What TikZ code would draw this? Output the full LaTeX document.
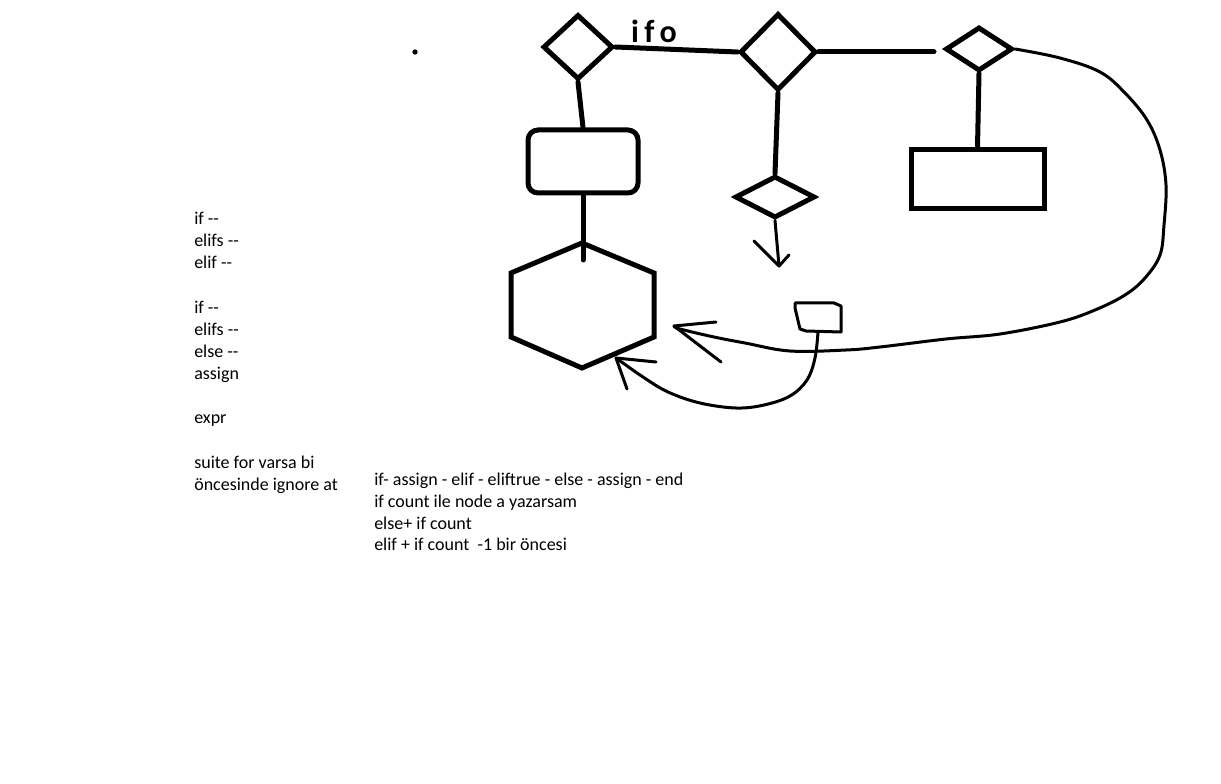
\documentclass[tikz,border=0pt]{standalone}
\usepackage{fontspec}
\setmainfont{Carlito}
\usetikzlibrary{shapes.geometric}

\begin{document}
\begin{tikzpicture}[x=0.75pt, y=-0.75pt, line cap=round,
  kalin/.style={line width=3.75pt},
  ince/.style={line width=2.25pt, line join=round},
  karo/.style={draw, diamond, kalin, inner sep=0pt},
  kutu/.style={draw, rectangle, kalin, inner sep=0pt},
  yazi/.style={align=left, inner sep=0pt, anchor=north west, font=\fontsize{13.5pt}{16.6pt}\selectfont}]
  \useasboundingbox (0,0) rectangle (1221,784);

  % ust sira: if - elif - else
  \node[karo, minimum width=52.5pt, minimum height=48.75pt] (if1) at (578,47) {};
  \node[karo, minimum width=57pt, minimum height=57.75pt] (elif1) at (778,52) {};
  \node[karo, minimum width=50.25pt, minimum height=33pt] (else1) at (979,49) {};
  \node[font=\bfseries\fontsize{24pt}{24pt}\selectfont, inner sep=0pt] (etiket) at (654,31) {i\,f\hspace{4pt}o};
  \coordinate (elsebos) at (934,52);
  \draw[kalin] (if1.east) -- (elif1.west);
  \draw[kalin] (elif1.east) -- (elsebos);

  % alt kutular
  \node[kutu, rounded corners=7.5pt, minimum width=82.5pt, minimum height=47.25pt] (assign1) at (583,161.5) {};
  \node[kutu, minimum width=99.75pt, minimum height=44.25pt] (assign2) at (977.5,179.5) {};
  \node[karo, minimum width=60pt, minimum height=31.5pt] (elif2) at (775,197) {};
  \draw[kalin] (if1.south) -- (assign1.north);
  \draw[kalin] (else1.south) -- (assign2.north);
  \draw[kalin] (elif1.south) -- (elif2.north);

  % altigen (end)
  \coordinate (hxust) at (582,243);
  \coordinate (hxuc) at (583,260);
  \draw[kalin] (hxust) -- (654,273) -- (654,337) -- (582,368) -- (511,337) -- (511,273) -- cycle;
  \draw[kalin] (assign1.south) -- (hxuc);

  % asagi ok
  \coordinate (ok1) at (779,266);
  \draw[ince] (elif2.south) -- (ok1);
  \draw[ince] (754,241) -- (ok1) -- (789,255);

  % kucuk besgen
  \coordinate (besalt) at (818,332);
  \draw[ince] (795,303) -- (834,303) -- (841,306) -- (841,332) -- (806,331) -- (800,329) -- (795,308) -- cycle;

  % egriler
  \coordinate (ucA) at (674,326);
  \coordinate (ucB) at (616,358);
  \draw[ince] plot[smooth, tension=0.6] coordinates {(else1.east) (1060,58) (1100,72) (1125,93) (1147,120) (1160,150) (1166,185) (1164,225) (1160,255) (1145,278) (1125,295) (1095,310) (1060,322) (1000,334) (946,339) (880,347) (846,350) (790,351) (745,343) (714,337) (680,329) (ucA)};
  \draw[ince] (716,322) -- (ucA) -- (721,362);
  \draw[ince] plot[smooth, tension=0.6] coordinates {(besalt) (815,358) (807,380) (790,396) (764,405) (736,408) (700,403) (668,392) (643,377) (ucB)};
  \draw[ince] (656,362) -- (ucB) -- (627,389);

  % nokta
  \fill (415,52) circle[radius=2pt];

  % notlar
  \node[yazi] (notlar) at (194,212) {if -{}-\\elifs -{}-\\elif -{}-\\[16.6pt]if -{}-\\elifs -{}-\\else -{}-\\assign\\[16.6pt]expr\\[16.6pt]suite for varsa bi\\öncesinde ignore at};
  \node[yazi, font=\fontsize{13.5pt}{16.3pt}\selectfont] (sira) at (374,473) {if- assign - elif - eliftrue - else - assign - end\\if count ile node a yazarsam\\else+ if count\\elif + if count\ \ -1 bir öncesi};
\end{tikzpicture}
\end{document}
